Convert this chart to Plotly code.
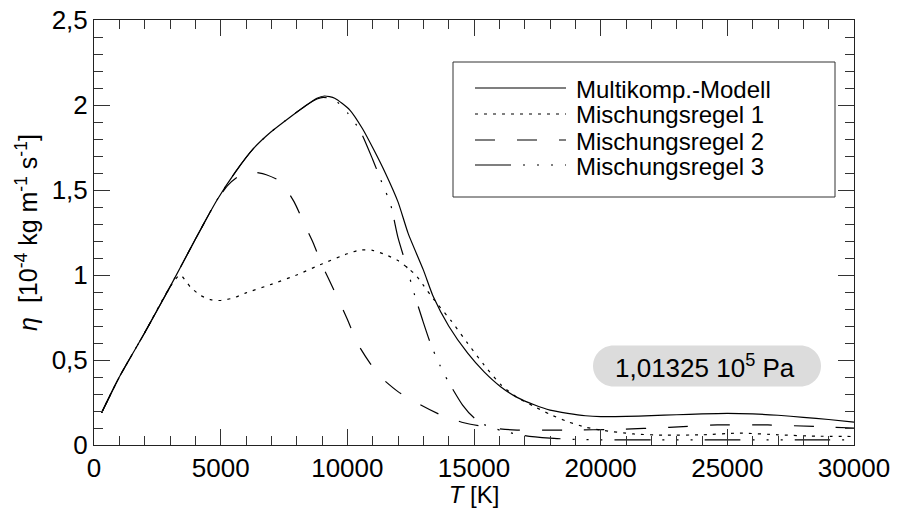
import plotly.graph_objects as go

# ---------------- data ----------------
T_multi = [300, 1000, 2000, 3000, 4000, 4850, 5600, 6300, 6970, 7750, 8300, 8800, 9100,
           9500, 10100, 10600, 11050, 11500, 12000, 12400, 13000, 13400, 14000,
           14750, 15400, 16050, 16700, 17400, 18000, 18700, 19400, 20000, 21000,
           22000, 23000, 24000, 25000, 26000, 27000, 28000, 29000, 30000]
eta_multi = [0.19, 0.40, 0.66, 0.93, 1.21, 1.44, 1.61, 1.745, 1.84, 1.93, 1.99, 2.04, 2.053,
             2.04, 1.97, 1.86, 1.735, 1.60, 1.43, 1.245, 1.03, 0.87, 0.70,
             0.54, 0.43, 0.343, 0.28, 0.235, 0.205, 0.186, 0.172, 0.167, 0.168,
             0.173, 0.178, 0.183, 0.186, 0.183, 0.175, 0.163, 0.15, 0.135]

T_mr1 = [300, 1000, 2000, 3000, 3400, 3800, 4200, 4600, 5000, 5500, 6000, 7000,
         8000, 9000, 10000, 10500, 11000, 11500, 12000, 12400, 12700, 13000, 13430,
         14100, 14750, 15400, 16070, 16700, 17400, 18000, 18700, 19400, 20000,
         21300, 22500, 24000, 25500, 27000, 28500, 30000]
eta_mr1 = [0.19, 0.40, 0.66, 0.93, 1.00, 0.93, 0.88, 0.855, 0.85, 0.865, 0.895, 0.945,
           1.0, 1.065, 1.125, 1.147, 1.145, 1.12, 1.085, 1.04, 1.0, 0.94, 0.853,
           0.73, 0.598, 0.47, 0.353, 0.28, 0.225, 0.18, 0.137, 0.105, 0.088,
           0.065, 0.058, 0.06, 0.07, 0.06, 0.052, 0.05]

T_mr2 = [300, 1000, 2000, 3000, 4000, 4850, 5300, 5650, 6000, 6300, 6800, 7360,
         7900, 8300, 8650, 9000, 9470, 10000, 10400, 10900, 11300, 12000, 12900,
         13700, 14600, 15400, 16000, 16700, 18700, 20700, 22700, 24600, 26600,
         28600, 30000]
eta_mr2 = [0.19, 0.40, 0.66, 0.93, 1.21, 1.44, 1.53, 1.575, 1.60, 1.605, 1.59, 1.55,
           1.43, 1.30, 1.19, 1.06, 0.912, 0.74, 0.598, 0.48, 0.402, 0.314, 0.235,
           0.176, 0.131, 0.108, 0.095, 0.088, 0.088, 0.092, 0.104, 0.118, 0.118,
           0.108, 0.10]

T_mr3 = [300, 1000, 2000, 3000, 4000, 4850, 5600, 6300, 6970, 7750, 8300, 8800, 9050,
         9500, 10000, 10500, 11000, 11400, 11700, 12000, 12300, 12640, 12970, 13300,
         13650, 13960, 14550, 15000, 15400, 16070, 17000, 18000, 19000, 20000,
         22000, 25000, 28000, 30000]
eta_mr3 = [0.19, 0.40, 0.66, 0.93, 1.21, 1.44, 1.61, 1.745, 1.84, 1.93, 1.99, 2.035, 2.045,
           2.03, 1.955, 1.85, 1.68, 1.53, 1.42, 1.22, 1.07, 0.89, 0.735, 0.59,
           0.47, 0.38, 0.235, 0.16, 0.12, 0.085, 0.055, 0.04, 0.033, 0.03,
           0.03, 0.03, 0.03, 0.03]

series_names = ["Multikomp.-Modell", "Mischungsregel 1", "Mischungsregel 2", "Mischungsregel 3"]
series_dash = ["solid", "3px,6px", "20px,22px", "36px,12px,2px,12px,2px,12px,2px,12px"]

x_tickvals = [0, 5000, 10000, 15000, 20000, 25000, 30000]
x_ticktext = ["0", "5000", "10000", "15000", "20000", "25000", "30000"]
y_tickvals = [0, 0.5, 1, 1.5, 2, 2.5]
y_ticktext = ["0", "0,5", "1", "1,5", "2", "2,5"]

pressure_label = "1,01325 10<sup>5</sup> Pa"

# ---------------- figure ----------------
FONT = "Liberation Sans, Arial, sans-serif"
W, H = 899, 508
ML, MR, MT, MB = 94, 45, 20, 63
PW, PH = W - ML - MR, H - MT - MB


def px(x):
    return (x - ML) / PW


def py(y):
    return (H - MB - y) / PH


fig = go.Figure()
data = [(T_multi, eta_multi), (T_mr1, eta_mr1), (T_mr2, eta_mr2), (T_mr3, eta_mr3)]
for (tx, ey), name, dash in zip(data, series_names, series_dash):
    fig.add_trace(go.Scatter(
        x=tx, y=ey, mode="lines", name=name, showlegend=False,
        line=dict(color="black", width=1.2, dash=dash, shape="spline", smoothing=0.6),
    ))

shapes = []
annotations = []

# legend box (drawn by hand to get long line samples)
shapes.append(dict(type="rect", xref="paper", yref="paper",
                   x0=px(453), x1=px(835), y0=py(197), y1=py(62),
                   line=dict(color="#333", width=1), fillcolor="white", layer="above"))
row_y = [88, 114, 140, 165]
for yy, name, dash in zip(row_y, series_names, series_dash):
    shapes.append(dict(type="line", xref="paper", yref="paper",
                       x0=px(475), x1=px(566), y0=py(yy), y1=py(yy),
                       line=dict(color="black", width=1.2, dash=dash), layer="above"))
    annotations.append(dict(xref="paper", yref="paper", x=px(574), y=py(yy + 1),
                            xanchor="left", yanchor="middle", showarrow=False,
                            text=name, font=dict(family=FONT, size=24, color="black")))

# pressure pill
cx, cy = px(707), py(366)
hw, hh = 114, 20.5
k = 0.5523 * hh
a = hw - hh
pill = (f"M {-a},{-hh} L {a},{-hh} C {a + k},{-hh} {hw},{-k} {hw},0 "
        f"C {hw},{k} {a + k},{hh} {a},{hh} L {-a},{hh} "
        f"C {-a - k},{hh} {-hw},{k} {-hw},0 C {-hw},{-k} {-a - k},{-hh} {-a},{-hh} Z")
shapes.append(dict(type="path", xref="paper", yref="paper", xsizemode="pixel", ysizemode="pixel",
                   xanchor=cx, yanchor=cy, path=pill, fillcolor="#dcdcdc",
                   line=dict(width=0), layer="above"))
annotations.append(dict(xref="paper", yref="paper", x=px(705), y=cy, xanchor="center", yanchor="middle",
                        showarrow=False, text=pressure_label,
                        font=dict(family=FONT, size=26, color="black")))

axis_common = dict(
    showline=True, linecolor="#222", linewidth=1, mirror="ticks",
    ticks="inside", ticklen=16, tickwidth=1, tickcolor="#333",
    showgrid=False, zeroline=False,
    tickfont=dict(family=FONT, size=26, color="black"),
)

fig.update_layout(
    width=W, height=H,
    margin=dict(l=ML, r=MR, t=MT, b=MB, autoexpand=False),
    paper_bgcolor="white", plot_bgcolor="white",
    font=dict(family=FONT, color="black"),
    showlegend=False,
    xaxis=dict(range=[0, 30000], tickvals=x_tickvals, ticktext=x_ticktext,
               minor=dict(ticks="inside", ticklen=9, dtick=1000, tickcolor="#333", tickwidth=1),
               title=dict(text="<i>T</i> [K]", font=dict(family=FONT, size=24), standoff=4),
               **axis_common),
    yaxis=dict(range=[0, 2.5], tickvals=y_tickvals, ticktext=y_ticktext,
               minor=dict(ticks="inside", ticklen=9, dtick=0.1, tickcolor="#333", tickwidth=1),
               title=dict(text="<i>η</i>&nbsp; [10<sup>-4</sup> kg m<sup>-1</sup> s<sup>-1</sup>]",
                          font=dict(family=FONT, size=25), standoff=6),
               **axis_common),
    shapes=shapes,
    annotations=annotations,
)

fig.write_html("out.html")
